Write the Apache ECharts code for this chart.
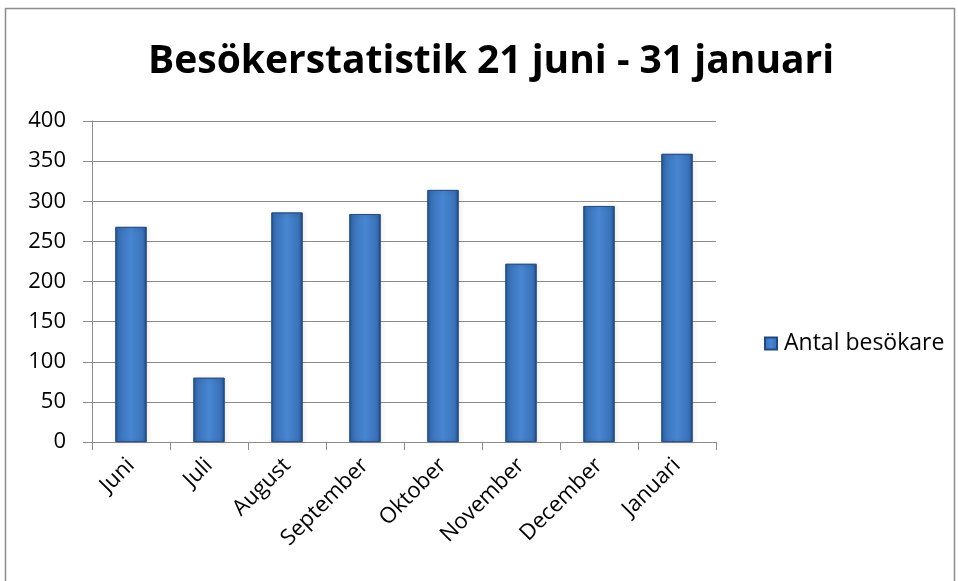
<!DOCTYPE html>
<html><head><meta charset="utf-8">
<script src="https://cdn.jsdelivr.net/npm/echarts@6/dist/echarts.min.js"></script>
<style>html,body{margin:0;padding:0;background:#fff}#c{width:958px;height:581px}</style>
</head><body><div id="c"></div>
<script>
const titleText = 'Besökerstatistik 21 juni - 31 januari';
const categories = ['Juni','Juli','August','September','Oktober','November','December','Januari'];
const seriesName = 'Antal besökare';
const values = [268, 80, 286, 284, 314, 222, 294, 359];
const yTicks = [0, 50, 100, 150, 200, 250, 300, 350, 400];

const barGrad = new echarts.graphic.LinearGradient(0,0,1,0,[
  {offset:0,color:'#2c5d9c'},
  {offset:0.12,color:'#3a72b8'},
  {offset:0.5,color:'#4886d3'},
  {offset:0.88,color:'#3a72b8'},
  {offset:1,color:'#264f86'}
]);
const chart = echarts.init(document.getElementById('c'));
chart.setOption({
  backgroundColor:'#fff',
  animation:false,
  graphic:[{type:'rect',shape:{x:5.5,y:8.5,width:949,height:580},style:{fill:'none',stroke:'#8c8c8c',lineWidth:1.5},silent:true}],
  title:{text:titleText,left:143,top:37,textStyle:{fontFamily:'Open Sans',fontWeight:'bold',fontSize:39,color:'#000'}},
  legend:{data:[seriesName],left:759,top:327,orient:'vertical',itemWidth:12,itemHeight:12,itemGap:4,
    textStyle:{fontFamily:'Open Sans',fontSize:23,color:'#000',padding:[0,0,0,2]},icon:'rect'},
  grid:{left:92,right:242,top:121,bottom:139,containLabel:false},
  xAxis:{type:'category',data:categories,
    axisLine:{lineStyle:{color:'#8c8c8c',width:1}},
    axisTick:{show:true,alignWithLabel:false,length:8,lineStyle:{color:'#8c8c8c'}},
    axisLabel:{rotate:45,fontFamily:'Open Sans',fontSize:22,color:'#000',margin:20}},
  yAxis:{type:'value',min:yTicks[0],max:yTicks[yTicks.length-1],interval:50,
    axisLine:{show:true,lineStyle:{color:'#8c8c8c'}},
    axisTick:{show:true,length:9,lineStyle:{color:'#8c8c8c'}},
    axisLabel:{fontFamily:'Open Sans',fontSize:22,color:'#000',margin:26}},
  series:[{name:seriesName,type:'bar',data:values,barWidth:'40%',
    itemStyle:{color:barGrad,borderColor:'#234a80',borderWidth:0.8,
      shadowColor:'rgba(0,0,0,0.25)',shadowBlur:4,shadowOffsetX:1,shadowOffsetY:1}}]
});
chart.setOption({yAxis:{splitLine:{show:true,lineStyle:{color:'#8c8c8c',width:1}}}});
</script></body></html>
